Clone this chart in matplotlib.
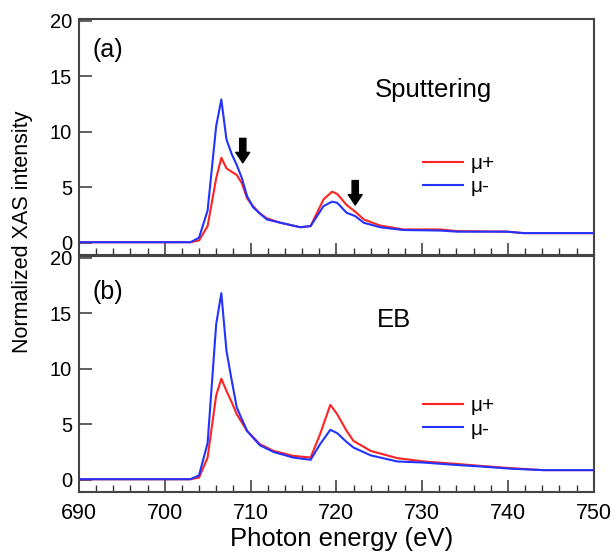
import matplotlib
matplotlib.use('Agg')
from matplotlib import pyplot as plt
from matplotlib.ticker import MultipleLocator

plt.rcParams['font.family'] = ['Liberation Sans', 'DejaVu Sans']

# panel (a): sputtering
energy_a = [690, 703, 704, 705, 706, 706.6, 707.2, 707.8, 708.4, 709.0, 709.6,
            710.3, 711.0, 711.9, 713.5, 715.8, 717.0, 718.5, 719.5, 720.1,
            721.2, 722.2, 723.2, 725.1, 727.8, 732.1, 734.1, 739.9, 741.8, 750]
mu_plus_a = [0.05, 0.05, 0.2, 1.5, 5.8, 7.65, 6.7, 6.4, 6.1, 5.35, 4.0,
             3.3, 2.7, 2.2, 1.8, 1.4, 1.5, 3.9, 4.6, 4.4,
             3.4, 2.8, 2.1, 1.55, 1.2, 1.2, 1.05, 1.0, 0.87, 0.87]
mu_minus_a = [0.05, 0.05, 0.45, 2.9, 10.5, 12.9, 9.3, 8.0, 7.0, 5.8, 4.2,
              3.2, 2.7, 2.1, 1.8, 1.4, 1.5, 3.3, 3.7, 3.6,
              2.7, 2.4, 1.8, 1.4, 1.15, 1.1, 1.0, 1.0, 0.87, 0.87]

# panel (b): EB
energy_b = [690, 703, 704, 705, 706, 706.6, 707.2, 707.8, 708.4, 709.6, 711.1,
            712.7, 715.0, 717.0, 718.1, 719.3, 720.1, 721.2, 722.0, 724.0,
            727.1, 730.2, 733.7, 736.8, 740.3, 744.1, 750]
mu_plus_b = [0.05, 0.05, 0.2, 2.0, 7.6, 9.1, 8.0, 7.0, 5.9, 4.4, 3.2,
             2.6, 2.15, 2.0, 4.1, 6.75, 5.9, 4.4, 3.5, 2.6,
             1.95, 1.65, 1.45, 1.25, 1.05, 0.87, 0.87]
mu_minus_b = [0.05, 0.05, 0.4, 3.3, 14.0, 16.8, 11.6, 9.0, 6.5, 4.4, 3.1,
              2.5, 2.0, 1.8, 3.2, 4.5, 4.2, 3.4, 2.9, 2.2,
              1.65, 1.55, 1.35, 1.2, 1.0, 0.87, 0.87]

# arrows in panel (a): (energy, start, end)
arrows_a = [(709.1, 9.4, 7.2), (722.2, 5.6, 3.4)]

RED = '#ff2222'
BLUE = '#2233ff'

fig = plt.figure(figsize=(6.16, 5.53), dpi=100)
ax_a = fig.add_axes([0.128, 0.5389, 0.836, 0.4268])
ax_b = fig.add_axes([0.128, 0.1103, 0.836, 0.4268])


def style_panel(ax):
    ax.set_xlim(690, 750)
    ax.set_ylim(-1.1, 20.15)
    ax.xaxis.set_major_locator(MultipleLocator(10))
    ax.xaxis.set_minor_locator(MultipleLocator(2))
    ax.yaxis.set_major_locator(MultipleLocator(5))
    ax.tick_params(axis='both', which='major', direction='in', length=9,
                   width=1.1, color='#333333')
    ax.tick_params(axis='x', which='major', pad=8, labelsize=15.5)
    ax.tick_params(axis='y', which='major', pad=5, labelsize=14.5)
    ax.tick_params(axis='x', which='minor', direction='in', length=5,
                   width=1.0, color='#333333')
    for sp in ax.spines.values():
        sp.set_linewidth(1.5)
        sp.set_color('#444444')


for ax, e, yp, ym, anchor_y in [(ax_a, energy_a, mu_plus_a, mu_minus_a, 0.462),
                                (ax_b, energy_b, mu_plus_b, mu_minus_b, 0.44)]:
    ax.plot(e, yp, color=RED, lw=1.5, label='\u03bc+')
    ax.plot(e, ym, color=BLUE, lw=1.5, label='\u03bc-')
    style_panel(ax)
    ax.legend(loc='upper left', bbox_to_anchor=(0.652, anchor_y),
              frameon=False, fontsize=15, handlelength=1.9, handletextpad=0.4,
              labelspacing=0.2, borderaxespad=0)

ax_a.tick_params(axis='x', labelbottom=False)

ax_a.text(0.027, 0.869, '(a)', transform=ax_a.transAxes, fontsize=18, va='center')
ax_b.text(0.027, 0.847, '(b)', transform=ax_b.transAxes, fontsize=18, va='center')
ax_a.text(0.689, 0.699, 'Sputtering', transform=ax_a.transAxes, fontsize=18.5,
          ha='center', va='center')
ax_b.text(0.612, 0.729, 'EB', transform=ax_b.transAxes, fontsize=18.5,
          ha='center', va='center')

for x, y0, y1 in arrows_a:
    ax_a.annotate('', xy=(x, y1), xytext=(x, y0),
                  arrowprops=dict(arrowstyle='simple,head_length=0.75,head_width=1.0,tail_width=0.45',
                                  fc='black', ec='black', shrinkA=0, shrinkB=0,
                                  mutation_scale=10))

fig.text(0.554, 0.012, 'Photon energy (eV)', fontsize=18.5,
         ha='center', va='baseline')
fig.text(0.037, 0.58, 'Normalized XAS intensity', rotation=90, fontsize=15.5,
         ha='center', va='center')

fig.savefig('out.png', dpi=100)
